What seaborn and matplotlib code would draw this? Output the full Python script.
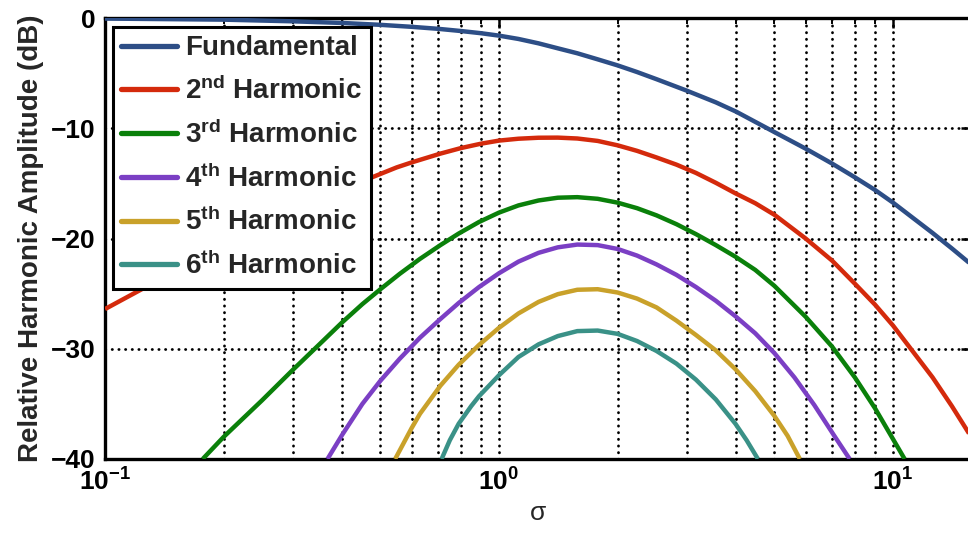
import matplotlib
matplotlib.use("Agg")
import matplotlib.pyplot as plt
from matplotlib.lines import Line2D
from matplotlib.ticker import FixedLocator, FixedFormatter, LogLocator, NullFormatter
import pandas as pd
import seaborn as sns

# ---- data: relative harmonic amplitude (dB) versus sigma ----
fund_sigma = [0.1, 0.2, 0.3, 0.4, 0.5, 0.6, 0.7, 0.8, 0.9, 1.0, 1.12, 1.26, 1.41, 1.58,
              1.78, 2.0, 2.24, 2.51, 3.0, 3.55, 4.0, 5.0, 6.0, 7.0, 8.0, 9.0, 10.0,
              11.2, 12.6, 14.1, 15.6, 16.0]
fund_db = [-0.05, -0.15, -0.3, -0.45, -0.62, -0.8, -0.98, -1.18, -1.38, -1.6, -1.9,
           -2.3, -2.75, -3.2, -3.75, -4.3, -4.9, -5.55, -6.6, -7.65, -8.5, -10.35,
           -11.85, -13.2, -14.45, -15.6, -16.75, -18.1, -19.5, -20.9, -22.2, -22.55]

h2_sigma = [0.1, 0.13, 0.2, 0.3, 0.4, 0.48, 0.55, 0.6, 0.71, 0.8, 0.9, 1.0, 1.12, 1.26,
            1.41, 1.58, 1.78, 2.0, 2.24, 2.51, 2.82, 3.16, 3.55, 3.98, 4.47, 5.0, 6.0,
            7.0, 8.0, 9.0, 10.0, 11.2, 12.6, 14.1, 15.6, 16.0]
h2_db = [-26.4, -24.2, -20.9, -17.7, -15.6, -14.4, -13.55, -13.1, -12.3, -11.8, -11.4,
         -11.12, -10.95, -10.86, -10.85, -10.93, -11.15, -11.55, -12.05, -12.65, -13.3,
         -14.05, -14.95, -15.9, -16.8, -17.85, -20.0, -22.0, -24.1, -26.0, -27.9, -30.2,
         -32.6, -35.2, -37.7, -38.3]

h3_sigma = [0.177, 0.2, 0.25, 0.3, 0.35, 0.4, 0.45, 0.5, 0.56, 0.63, 0.71, 0.79, 0.89,
            1.0, 1.12, 1.26, 1.41, 1.58, 1.78, 2.0, 2.24, 2.51, 2.82, 3.16, 3.55, 3.98,
            4.47, 5.0, 6.0, 7.0, 8.0, 9.0, 10.0, 10.7]
h3_db = [-40.0, -38.0, -34.7, -31.9, -29.6, -27.6, -25.95, -24.6, -23.2, -21.85, -20.6,
         -19.55, -18.5, -17.65, -17.0, -16.55, -16.3, -16.25, -16.4, -16.75, -17.25,
         -17.9, -18.7, -19.6, -20.6, -21.65, -22.85, -24.3, -27.1, -29.8, -32.6, -35.4,
         -38.2, -40.0]

h4_sigma = [0.367, 0.4, 0.45, 0.5, 0.56, 0.63, 0.71, 0.79, 0.89, 1.0, 1.12, 1.26, 1.41,
            1.58, 1.78, 2.0, 2.24, 2.51, 2.82, 3.16, 3.55, 3.98, 4.47, 5.0, 5.62, 6.31,
            7.08, 7.76]
h4_db = [-40.0, -37.8, -35.0, -32.9, -30.9, -29.0, -27.3, -25.85, -24.4, -23.15, -22.1,
         -21.3, -20.8, -20.55, -20.6, -20.95, -21.55, -22.35, -23.3, -24.4, -25.65,
         -27.05, -28.6, -30.4, -32.6, -35.1, -37.85, -40.0]

h5_sigma = [0.545, 0.6, 0.63, 0.71, 0.79, 0.89, 1.0, 1.12, 1.26, 1.41, 1.58, 1.78, 2.0,
            2.24, 2.51, 2.82, 3.16, 3.55, 3.98, 4.47, 5.0, 5.4, 5.8]
h5_db = [-40.0, -37.2, -35.9, -33.35, -31.45, -29.65, -28.1, -26.8, -25.75, -25.05,
         -24.65, -24.6, -24.9, -25.45, -26.25, -27.45, -28.75, -30.15, -31.85, -33.85,
         -36.1, -37.9, -40.0]

h6_sigma = [0.715, 0.75, 0.79, 0.85, 0.89, 1.0, 1.12, 1.26, 1.41, 1.58, 1.78, 2.0, 2.24,
            2.51, 2.82, 3.16, 3.55, 3.98, 4.25, 4.54]
h6_db = [-40.0, -38.3, -36.8, -35.2, -34.3, -32.4, -30.75, -29.6, -28.85, -28.4, -28.35,
         -28.65, -29.3, -30.2, -31.35, -32.8, -34.6, -36.8, -38.3, -40.0]

series_names = ["Fundamental", r"2$^{\mathbf{nd}}$ Harmonic", r"3$^{\mathbf{rd}}$ Harmonic",
                r"4$^{\mathbf{th}}$ Harmonic", r"5$^{\mathbf{th}}$ Harmonic",
                r"6$^{\mathbf{th}}$ Harmonic"]
series_colors = ["#2d4e86", "#d42a0c", "#0a800a", "#7b3fc4", "#c9a12a", "#3a9187"]

y_ticks = [-40, -30, -20, -10, 0]
x_major = [0.1, 1.0, 10.0]
x_major_labels = [r"$\mathbf{10^{-1}}$", r"$\mathbf{10^{0}}$", r"$\mathbf{10^{1}}$"]

# ---- long table for seaborn ----
frames = []
for name, xs, ys in zip(series_names,
                        [fund_sigma, h2_sigma, h3_sigma, h4_sigma, h5_sigma, h6_sigma],
                        [fund_db, h2_db, h3_db, h4_db, h5_db, h6_db]):
    frames.append(pd.DataFrame({"sigma": xs, "db": ys, "series": name}))
df = pd.concat(frames, ignore_index=True)

sns.set_style("white")
plt.rcParams["font.family"] = ["Liberation Sans", "DejaVu Sans"]
plt.rcParams["font.weight"] = "bold"
plt.rcParams["mathtext.fontset"] = "custom"
plt.rcParams["mathtext.rm"] = "Liberation Sans:bold"
plt.rcParams["mathtext.bf"] = "Liberation Sans:bold"
plt.rcParams["mathtext.it"] = "Liberation Sans:bold"

fig = plt.figure(figsize=(9.68, 5.33), dpi=100)
ax = fig.add_axes([105 / 968, 74 / 533, 866 / 968, 441 / 533])

sns.lineplot(data=df, x="sigma", y="db", hue="series", hue_order=series_names,
             palette=series_colors, linewidth=3.2, estimator=None, sort=False,
             legend=False, ax=ax, zorder=3)
for ln in ax.get_lines():
    ln.set_solid_joinstyle("round")
    ln.set_solid_capstyle("butt")

ax.set_xscale("log")
ax.set_xlim(0.1, 15.77)
ax.set_ylim(-40, 0)

ax.xaxis.set_major_locator(FixedLocator(x_major))
ax.xaxis.set_major_formatter(FixedFormatter(x_major_labels))
ax.xaxis.set_minor_locator(LogLocator(base=10, subs=range(2, 10)))
ax.xaxis.set_minor_formatter(NullFormatter())
ax.yaxis.set_major_locator(FixedLocator(y_ticks))

grid_kw = dict(color="black", linewidth=2.0, linestyle=(0, (0.1, 2.3)),
               dash_capstyle="round")
ax.grid(True, which="major", axis="both", **grid_kw)
ax.grid(True, which="minor", axis="x", **grid_kw)
ax.set_axisbelow(True)

for side in ["left", "bottom", "top", "right"]:
    ax.spines[side].set_visible(True)
    ax.spines[side].set_linewidth(2.4)
    ax.spines[side].set_color("black")

ax.tick_params(which="both", direction="in", top=True, right=True, colors="black")
ax.tick_params(which="major", length=7, width=1.8, labelsize=19, pad=7)
ax.tick_params(which="minor", length=4, width=1.4)

ax.set_xlabel("σ", fontsize=19, fontweight="normal", labelpad=4)
ax.set_ylabel("Relative Harmonic Amplitude (dB)", fontsize=20, fontweight="bold",
              labelpad=5)

handles = [Line2D([0], [0], color=c, linewidth=3.8) for c in series_colors]
leg = ax.legend(handles, series_names, loc="upper left",
                bbox_to_anchor=(0.0092, 0.9796), borderaxespad=0,
                fontsize=20, frameon=True, fancybox=False, framealpha=1,
                edgecolor="black", handlelength=2.0, handletextpad=0.3,
                labelspacing=0.55, borderpad=0.3)
leg.get_frame().set_linewidth(2.2)
leg.set_zorder(5)

fig.savefig("out.png", dpi=100)
